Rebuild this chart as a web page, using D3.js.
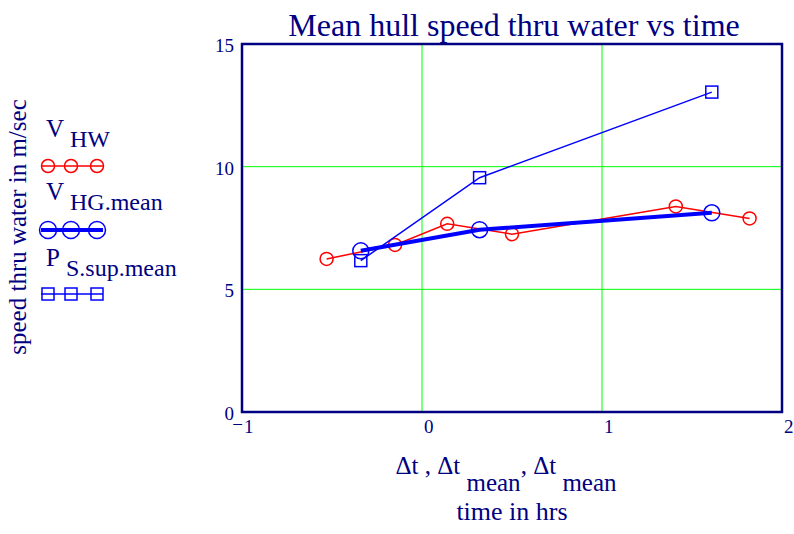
<!DOCTYPE html>
<html>
<head>
<meta charset="utf-8">
<script src="https://cdn.jsdelivr.net/npm/d3@7"></script>
<style>
  body { margin: 0; background: #fff; }
  text { font-family: "Liberation Serif", "DejaVu Serif", serif; fill: #000080; }
</style>
</head>
<body>
<div id="chart"></div>
<script>
const width = 794;
const height = 534;

// time in hrs for the raw hull-speed samples
const hwTime = [-0.53, -0.15, 0.14, 0.50, 1.41, 1.82];
const hwSpeed = [6.24, 6.81, 7.67, 7.25, 8.38, 7.89];

// mean time points shared by the two mean series
const meanTime = [-0.34, 0.32, 1.61];
const hgMean = [6.57, 7.43, 8.12];
const supMean = [6.17, 9.55, 13.04];

const xTicks = [-1, 0, 1, 2];
const yTicks = [0, 5, 10, 15];

const margin = { left: 242, right: 12, top: 44, bottom: 122 };

const svg = d3.select("#chart")
  .append("svg")
  .attr("width", width)
  .attr("height", height);

const x = d3.scaleLinear()
  .domain([-1, 2])
  .range([margin.left, width - margin.right]);

const y = d3.scaleLinear()
  .domain([0, 15])
  .range([height - margin.bottom, margin.top]);

// grid
svg.append("g")
  .selectAll("line")
  .data(xTicks.slice(1, -1))
  .join("line")
  .attr("x1", d => x(d)).attr("x2", d => x(d))
  .attr("y1", y(0)).attr("y2", y(15))
  .attr("stroke", "#00ff00")
  .attr("stroke-width", 1);

svg.append("g")
  .selectAll("line")
  .data(yTicks.slice(1, -1))
  .join("line")
  .attr("x1", x(-1)).attr("x2", x(2))
  .attr("y1", d => y(d)).attr("y2", d => y(d))
  .attr("stroke", "#00ff00")
  .attr("stroke-width", 1);

// frame
svg.append("rect")
  .attr("x", x(-1))
  .attr("y", y(15))
  .attr("width", x(2) - x(-1))
  .attr("height", y(0) - y(15))
  .attr("fill", "none")
  .attr("stroke", "#000080")
  .attr("stroke-width", 2.5);

// tick labels: digits start just right of the tick, minus hangs to the left
const xTickG = svg.append("g");
xTickG.selectAll(".num")
  .data(xTicks)
  .join("text")
  .attr("class", "num")
  .attr("x", d => x(d) + 2)
  .attr("y", y(0) + 21)
  .attr("font-size", 19)
  .text(d => Math.abs(d));
xTickG.selectAll(".minus")
  .data(xTicks.filter(d => d < 0))
  .join("text")
  .attr("class", "minus")
  .attr("x", d => x(d) + 1)
  .attr("y", y(0) + 19)
  .attr("text-anchor", "end")
  .attr("font-size", 19)
  .text("\u2212");

svg.append("g")
  .selectAll("text")
  .data(yTicks)
  .join("text")
  .attr("x", x(-1) - 8)
  .attr("y", d => y(d) + 8)
  .attr("text-anchor", "end")
  .attr("font-size", 19)
  .text(d => d);

// title
svg.append("text")
  .attr("x", 514)
  .attr("y", 36)
  .attr("text-anchor", "middle")
  .attr("font-size", 32)
  .text("Mean hull speed thru water vs time");

// y axis label
svg.append("text")
  .attr("transform", "translate(26,227) rotate(-90)")
  .attr("text-anchor", "middle")
  .attr("font-size", 25)
  .text("speed thru water in m/sec");

// x axis label
const xl = svg.append("text")
  .attr("x", 506)
  .attr("y", 474)
  .attr("text-anchor", "middle")
  .attr("font-size", 25)
  .attr("xml:space", "preserve");
xl.append("tspan").text("\u0394t , \u0394t");
xl.append("tspan").attr("dy", 17).text(" mean");
xl.append("tspan").attr("dy", -17).text(", \u0394t");
xl.append("tspan").attr("dy", 17).text(" mean");

svg.append("text")
  .attr("x", 512)
  .attr("y", 520)
  .attr("text-anchor", "middle")
  .attr("font-size", 26)
  .text("time in hrs");

const line = d3.line().x(d => x(d[0])).y(d => y(d[1]));

const hwPts = hwTime.map((t, i) => [t, hwSpeed[i]]);
const hgPts = meanTime.map((t, i) => [t, hgMean[i]]);
const supPts = meanTime.map((t, i) => [t, supMean[i]]);

// V_HW
svg.append("path")
  .attr("d", line(hwPts))
  .attr("fill", "none")
  .attr("stroke", "#ff0000")
  .attr("stroke-width", 1.5);
svg.append("g")
  .selectAll("circle")
  .data(hwPts)
  .join("circle")
  .attr("cx", d => x(d[0])).attr("cy", d => y(d[1]))
  .attr("r", 6.5)
  .attr("fill", "none")
  .attr("stroke", "#ff0000")
  .attr("stroke-width", 1.5);

// P_S.sup.mean
svg.append("path")
  .attr("d", line(supPts))
  .attr("fill", "none")
  .attr("stroke", "#0000ff")
  .attr("stroke-width", 1.5);
svg.append("g")
  .selectAll("rect")
  .data(supPts)
  .join("rect")
  .attr("x", d => x(d[0]) - 6).attr("y", d => y(d[1]) - 6)
  .attr("width", 12).attr("height", 12)
  .attr("fill", "none")
  .attr("stroke", "#0000ff")
  .attr("stroke-width", 1.5);

// V_HG.mean
svg.append("path")
  .attr("d", line(hgPts))
  .attr("fill", "none")
  .attr("stroke", "#0000ff")
  .attr("stroke-width", 4);
svg.append("g")
  .selectAll("circle")
  .data(hgPts)
  .join("circle")
  .attr("cx", d => x(d[0])).attr("cy", d => y(d[1]))
  .attr("r", 8)
  .attr("fill", "none")
  .attr("stroke", "#0000ff")
  .attr("stroke-width", 1.5);

// legend
const legend = svg.append("g");
const legendX = [48, 71, 97];

function legendLabel(yBase, main, sub, subX) {
  legend.append("text").attr("x", 46).attr("y", yBase).attr("font-size", 25).text(main);
  legend.append("text").attr("x", subX).attr("y", yBase + 10).attr("font-size", 24).text(sub);
}

legendLabel(137, "V", "HW", 70);
legend.append("line")
  .attr("x1", 41).attr("x2", 103).attr("y1", 166).attr("y2", 166)
  .attr("stroke", "#ff0000").attr("stroke-width", 1.5);
legend.selectAll(".lhw")
  .data(legendX)
  .join("circle")
  .attr("class", "lhw")
  .attr("cx", d => d).attr("cy", 166).attr("r", 6.5)
  .attr("fill", "none").attr("stroke", "#ff0000").attr("stroke-width", 1.5);

legendLabel(200, "V", "HG.mean", 70);
legend.append("line")
  .attr("x1", 41).attr("x2", 103).attr("y1", 230).attr("y2", 230)
  .attr("stroke", "#0000ff").attr("stroke-width", 4);
legend.selectAll(".lhg")
  .data(legendX)
  .join("circle")
  .attr("class", "lhg")
  .attr("cx", d => d).attr("cy", 230).attr("r", 8.5)
  .attr("fill", "none").attr("stroke", "#0000ff").attr("stroke-width", 1.5);

legendLabel(266, "P", "S.sup.mean", 66);
legend.append("line")
  .attr("x1", 41).attr("x2", 103).attr("y1", 294).attr("y2", 294)
  .attr("stroke", "#0000ff").attr("stroke-width", 1.5);
legend.selectAll(".lsup")
  .data(legendX)
  .join("rect")
  .attr("class", "lsup")
  .attr("x", d => d - 6).attr("y", 288).attr("width", 12).attr("height", 12)
  .attr("fill", "none").attr("stroke", "#0000ff").attr("stroke-width", 1.5);
</script>
</body>
</html>
